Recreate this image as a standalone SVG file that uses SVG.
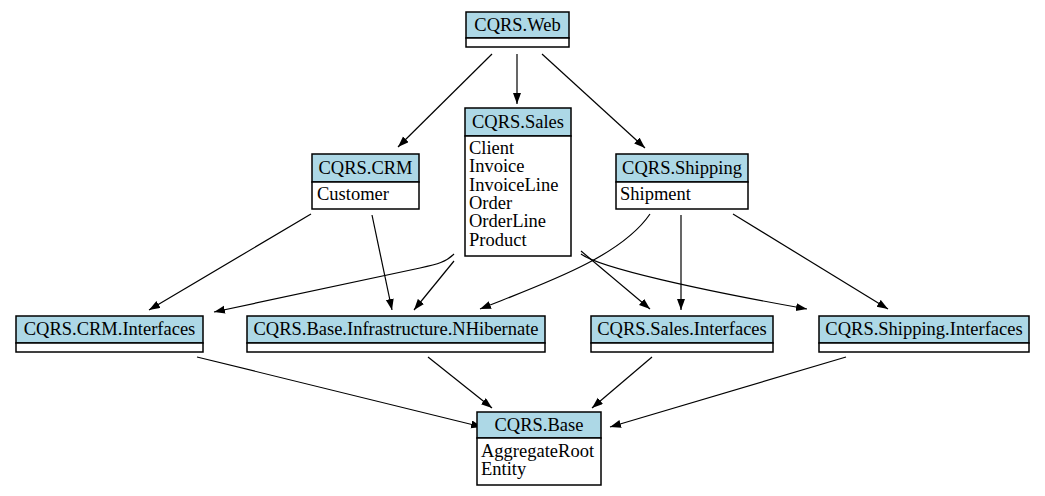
<svg xmlns="http://www.w3.org/2000/svg" width="1045" height="496" viewBox="0 0 1045 496">
<style>
.hdr{fill:#add8e6;stroke:#000;stroke-width:1.5}
.body{fill:#fff;stroke:#000;stroke-width:1.5}
text{font-family:'Liberation Serif','Times New Roman',Times,serif;font-size:18.5px;fill:#000}
.c{text-anchor:middle}
.e{fill:none;stroke:#000;stroke-width:1.2;marker-end:url(#arr)}
</style>
<defs>
<marker id="arr" markerUnits="userSpaceOnUse" markerWidth="12" markerHeight="9" refX="11" refY="4" orient="auto">
<path d="M0,0 L11,4 L0,8 z" fill="#000"/>
</marker>
</defs>
<rect width="1045" height="496" fill="#fff"/>
<g id="connectors">
<path class="e" d="M492,54 L398,147"/>
<path class="e" d="M517,54 L517,104"/>
<path class="e" d="M542,54 L645,148"/>
<path class="e" d="M311,214 L149,310"/>
<path class="e" d="M372,215 L392,310"/>
<path class="e" d="M454,254 C446,262 438,264 420,268 L214,312"/>
<path class="e" d="M454,261 L414,310"/>
<path class="e" d="M650,214 C620,258 540,285 480,309"/>
<path class="e" d="M581,251 L650,309"/>
<path class="e" d="M581,254 C600,268 700,290 807,309"/>
<path class="e" d="M681,215 L681,310"/>
<path class="e" d="M733,214 L888,309"/>
<path class="e" d="M197,357 L482,427"/>
<path class="e" d="M428,357 L492,408"/>
<path class="e" d="M652,357 L592,408"/>
<path class="e" d="M846,357 L610,427"/>
</g>
<g id="web" font-family="Liberation Serif, serif">
<rect class="hdr" x="466" y="12" width="103" height="26"/>
<rect class="body" x="466" y="38" width="103" height="9"/>
<text class="c" x="517.5" y="31">CQRS.Web</text>
</g>
<g id="crm">
<rect class="hdr" x="312" y="154" width="107" height="28"/>
<rect class="body" x="312" y="182" width="107" height="27"/>
<text class="c" x="365.5" y="174">CQRS.CRM</text>
<text x="317" y="200">Customer</text>
</g>
<g id="sales">
<rect class="hdr" x="465" y="108" width="106" height="28"/>
<rect class="body" x="465" y="136" width="106" height="120"/>
<text class="c" x="518" y="128">CQRS.Sales</text>
<text x="469" y="154">Client</text>
<text x="469" y="172">Invoice</text>
<text x="469" y="191">InvoiceLine</text>
<text x="469" y="209">Order</text>
<text x="469" y="227">OrderLine</text>
<text x="469" y="246">Product</text>
</g>
<g id="shipping">
<rect class="hdr" x="616" y="154" width="132" height="28"/>
<rect class="body" x="616" y="182" width="132" height="27"/>
<text class="c" x="682" y="174">CQRS.Shipping</text>
<text x="620" y="200">Shipment</text>
</g>
<g id="crm-interfaces">
<rect class="hdr" x="16" y="316" width="187" height="27"/>
<rect class="body" x="16" y="343" width="187" height="9"/>
<text class="c" x="109.5" y="335">CQRS.CRM.Interfaces</text>
</g>
<g id="nhibernate">
<rect class="hdr" x="247" y="316" width="298" height="27"/>
<rect class="body" x="247" y="343" width="298" height="9"/>
<text class="c" x="396" y="335">CQRS.Base.Infrastructure.NHibernate</text>
</g>
<g id="sales-interfaces">
<rect class="hdr" x="591" y="316" width="182" height="27"/>
<rect class="body" x="591" y="343" width="182" height="9"/>
<text class="c" x="682" y="335">CQRS.Sales.Interfaces</text>
</g>
<g id="shipping-interfaces">
<rect class="hdr" x="819" y="316" width="210" height="27"/>
<rect class="body" x="819" y="343" width="210" height="9"/>
<text class="c" x="924" y="335">CQRS.Shipping.Interfaces</text>
</g>
<g id="base">
<rect class="hdr" x="477" y="412" width="124" height="26"/>
<rect class="body" x="477" y="438" width="124" height="47"/>
<text class="c" x="539" y="431">CQRS.Base</text>
<text x="481" y="457">AggregateRoot</text>
<text x="481" y="475">Entity</text>
</g>
</svg>
